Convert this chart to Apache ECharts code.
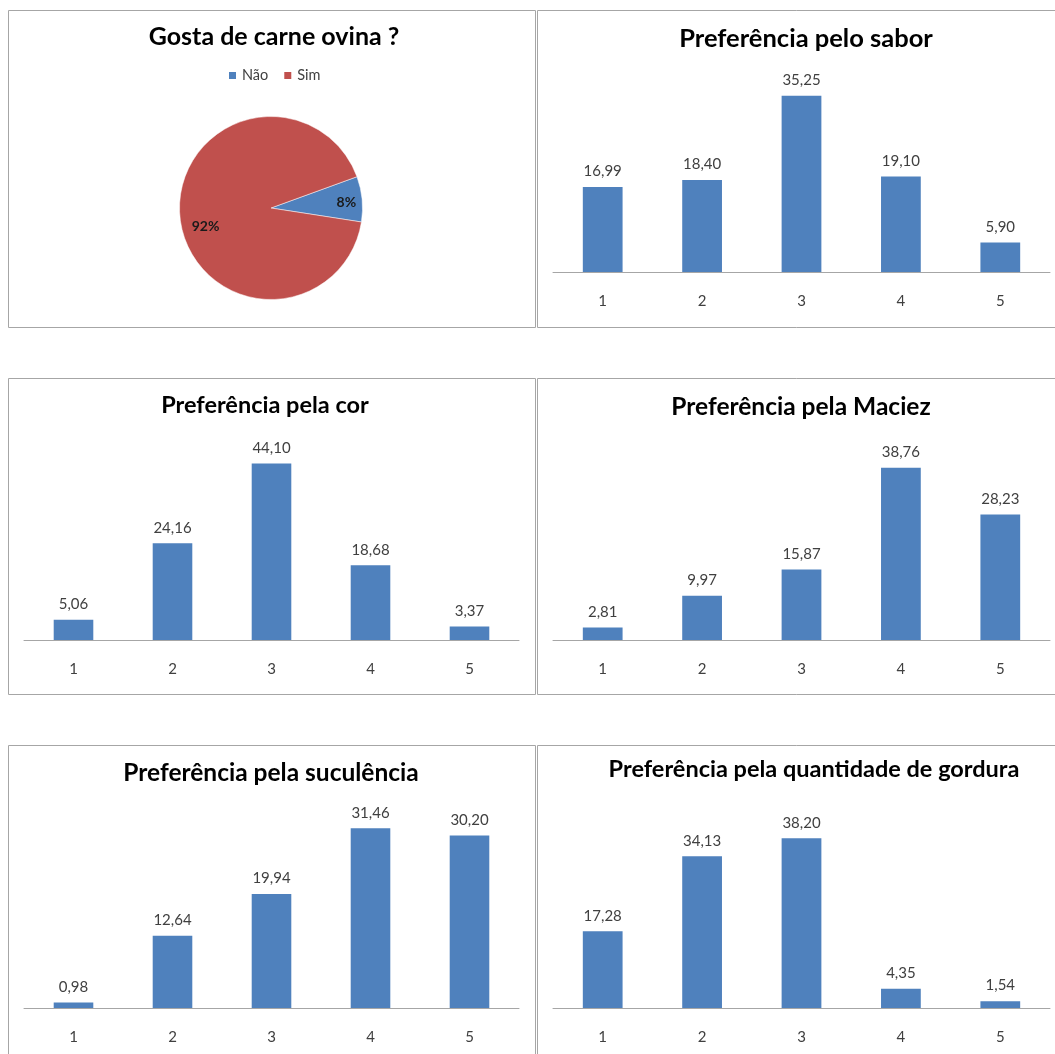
<!DOCTYPE html>
<html>
<head>
<meta charset="utf-8">
<script src="https://cdn.jsdelivr.net/npm/echarts@6/dist/echarts.min.js"></script>
<style>
html,body{margin:0;padding:0;background:#fff;}
#chart{width:1055px;height:1054px;}
</style>
</head>
<body>
<div id="chart"></div>
<script>
// ---- data ----
var pieTitle = 'Gosta de carne ovina ?';
var pieNames = ['Não', 'Sim'];
var pieValues = [8, 92];

var categories = ['1', '2', '3', '4', '5'];

var saborTitle = 'Preferência pelo sabor';
var saborValues = [16.99, 18.40, 35.25, 19.10, 5.90];

var corTitle = 'Preferência pela cor';
var corValues = [5.06, 24.16, 44.10, 18.68, 3.37];

var maciezTitle = 'Preferência pela Maciez';
var maciezValues = [2.81, 9.97, 15.87, 38.76, 28.23];

var suculenciaTitle = 'Preferência pela suculência';
var suculenciaValues = [0.98, 12.64, 19.94, 31.46, 30.20];

var gorduraTitle = 'Preferência pela quantidade de gordura';
var gorduraValues = [17.28, 34.13, 38.20, 4.35, 1.54];

var axisMax = [40, 50, 45, 35, 45];

// ---- layout ----
var FONT = 'Lato, "Open Sans", sans-serif';
var BLUE = '#4f81bd', RED = '#c0504d';
var barCharts = [
  {title: saborTitle, values: saborValues, left: 553, right: 1050, base: 272, tx: 806, ty: 39.5, fs: 25.5},
  {title: corTitle, values: corValues, left: 24, right: 519, base: 640, tx: 265, ty: 406, fs: 23.5},
  {title: maciezTitle, values: maciezValues, left: 553, right: 1050, base: 640, tx: 801, ty: 407.5, fs: 24.5},
  {title: suculenciaTitle, values: suculenciaValues, left: 24, right: 519, base: 1008, tx: 271, ty: 773.5, fs: 24.5},
  {title: gorduraTitle, values: gorduraValues, left: 553, right: 1050, base: 1008, tx: 814, ty: 770.5, fs: 23.5}
];
var PLOT_H = 200;
var TITLE_K = 0.54;

function fmt(v) { return v.toFixed(2).replace('.', ','); }

var titles = [{
  text: pieTitle, left: 274, top: 38 - TITLE_K * 25, textAlign: 'center', padding: 0,
  textStyle: {fontFamily: FONT, fontWeight: 'bold', fontSize: 25, color: '#000'}
}];
var grids = [], xAxes = [], yAxes = [], series = [];

barCharts.forEach(function (c, i) {
  titles.push({
    text: c.title, left: c.tx, top: c.ty - TITLE_K * c.fs, textAlign: 'center', padding: 0,
    textStyle: {fontFamily: FONT, fontWeight: 'bold', fontSize: c.fs, color: '#000'}
  });
  grids.push({left: c.left, width: c.right - c.left, top: c.base - PLOT_H, height: PLOT_H});
  xAxes.push({
    type: 'category', gridIndex: i, data: categories,
    axisLine: {lineStyle: {color: '#a6a6a6', width: 1}},
    axisTick: {show: false},
    axisLabel: {fontFamily: FONT, fontSize: 15, color: '#404040', margin: 22}
  });
  yAxes.push({type: 'value', gridIndex: i, min: 0, max: axisMax[i], show: false, splitLine: {show: false}});
  series.push({
    type: 'bar', xAxisIndex: i, yAxisIndex: i, data: c.values, barWidth: '40%',
    itemStyle: {color: BLUE},
    label: {
      show: true, position: 'top', distance: 8,
      fontFamily: FONT, fontSize: 15, color: '#404040',
      formatter: function (p) { return fmt(p.value); }
    },
    silent: true
  });
});

var pieData = pieNames.map(function (n, i) { return {name: n, value: pieValues[i]}; });
var labelNudge = [[4, 1], [6, 11]];
series.push({
  type: 'pie', center: [271, 208], radius: 91.5, startAngle: 20, clockwise: true,
  data: pieData, color: [BLUE, RED], label: {show: false}, labelLine: {show: false},
  itemStyle: {borderColor: '#fff', borderWidth: 0.5}, silent: true
});
series.push({
  type: 'pie', center: [271, 208], radius: [46, 91.5], startAngle: 20, clockwise: true,
  data: pieData, itemStyle: {color: 'rgba(0,0,0,0)'}, silent: true, legendHoverLink: false,
  label: {
    show: true, position: 'inside', fontFamily: FONT, fontWeight: 'bold', fontSize: 14, color: '#1a1a1a',
    formatter: function (p) { return Math.round(p.percent) + '%'; }
  },
  labelLayout: function (params) {
    var n = labelNudge[params.dataIndex];
    return {dx: n[0], dy: n[1]};
  },
  labelLine: {show: false}
});

// panel borders
var panels = [
  [8, 10, 527, 317], [537, 10, 540, 317],
  [8, 378, 527, 316], [537, 378, 540, 316],
  [8, 745, 527, 320], [537, 745, 540, 320]
];
var graphics = panels.map(function (p) {
  return {type: 'rect', shape: {x: p[0] + 0.5, y: p[1] + 0.5, width: p[2], height: p[3]},
    style: {fill: 'none', stroke: '#a6a6a6', lineWidth: 1}, silent: true, z: 0};
});

var chart = echarts.init(document.getElementById('chart'), null, {renderer: 'canvas'});
chart.setOption({
  backgroundColor: '#fff',
  animation: false,
  color: [BLUE, RED],
  title: titles,
  legend: {
    data: pieNames, left: 227, top: 68, orient: 'horizontal',
    icon: 'rect', itemWidth: 9, itemHeight: 9, itemGap: 14, padding: 0,
    textStyle: {fontFamily: FONT, fontSize: 14.5, color: '#404040'},
    selectedMode: false
  },
  grid: grids, xAxis: xAxes, yAxis: yAxes, series: series, graphic: graphics
});
</script>
</body>
</html>
